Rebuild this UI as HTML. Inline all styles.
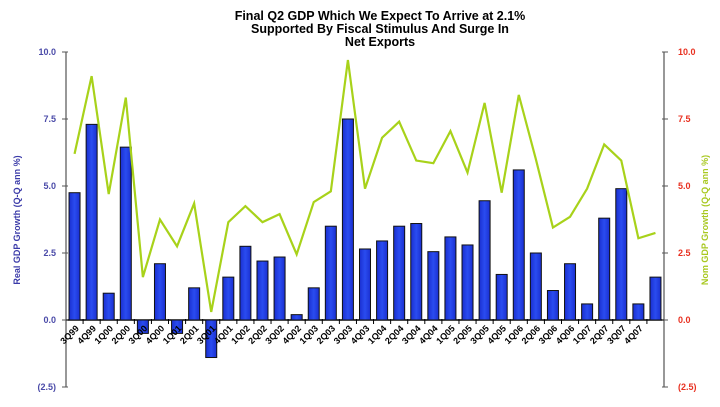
<!DOCTYPE html>
<html><head><meta charset="utf-8"><style>
body{margin:0;background:#fff;}
svg text{font-family:"Liberation Sans",sans-serif;font-weight:bold;}
</style></head><body>
<svg id="chart" width="720" height="402" viewBox="0 0 720 402" xmlns="http://www.w3.org/2000/svg">
<defs><linearGradient id="bg" x1="0" x2="1"><stop offset="0" stop-color="#1a2fd0"/><stop offset="0.5" stop-color="#2a4cf0"/><stop offset="1" stop-color="#1a2fd0"/></linearGradient></defs>
<g>
<text x="380" y="20" text-anchor="middle" font-size="12.5">Final Q2 GDP Which We Expect To Arrive at 2.1%</text>
<text x="380" y="33" text-anchor="middle" font-size="12.5">Supported By Fiscal Stimulus And Surge In</text>
<text x="380" y="46" text-anchor="middle" font-size="12.5">Net Exports</text>
</g>
<text transform="translate(20,220) rotate(-90)" text-anchor="middle" font-size="9" fill="#3a3aa8">Real GDP Growth (Q-Q ann %)</text>
<text transform="translate(708,220) rotate(-90)" text-anchor="middle" font-size="9" fill="#a8c820">Nom GDP Growth (Q-Q ann %)</text>
<g id="axes"></g><g id="bars"></g><g id="line"></g><g id="xlabels"></g>
</svg>
<script>
const categories=["3Q99","4Q99","1Q00","2Q00","3Q00","4Q00","1Q01","2Q01","3Q01","4Q01","1Q02","2Q02","3Q02","4Q02","1Q03","2Q03","3Q03","4Q03","1Q04","2Q04","3Q04","4Q04","1Q05","2Q05","3Q05","4Q05","1Q06","2Q06","3Q06","4Q06","1Q07","2Q07","3Q07","4Q07",""];
const realGdp=[4.75,7.3,1.0,6.45,-0.5,2.1,-0.5,1.2,-1.4,1.6,2.75,2.2,2.35,0.2,1.2,3.5,7.5,2.65,2.95,3.5,3.6,2.55,3.1,2.8,4.45,1.7,5.6,2.5,1.1,2.1,0.6,3.8,4.9,0.6,1.6];
const nomGdp=[6.2,9.1,4.7,8.3,1.6,3.75,2.75,4.35,0.3,3.65,4.25,3.65,3.95,2.45,4.4,4.8,9.7,4.9,6.8,7.4,5.95,5.85,7.05,5.5,8.1,4.75,8.4,6.0,3.45,3.85,4.9,6.55,5.95,3.05,3.25];
const ticks=[-2.5,0,2.5,5,7.5,10];
const tickLabels=["(2.5)","0.0","2.5","5.0","7.5","10.0"];
const NS="http://www.w3.org/2000/svg";
const X0=66,X1=664,Y0=320,PU=26.8;
const step=(X1-X0)/categories.length;
const y=v=>Y0-v*PU;
const xc=i=>X0+step*(i+0.5);
function mk(t,a,p){const e=document.createElementNS(NS,t);for(const k in a)e.setAttribute(k,a[k]);p.appendChild(e);return e;}
const axes=document.getElementById('axes');
let e=mk('line',{x1:X0,x2:X0,y1:y(10),y2:y(-2.5),stroke:'#777','stroke-width':1.5},axes);


e=mk('line',{x1:X1,x2:X1,y1:y(10),y2:y(-2.5),stroke:'#777','stroke-width':1.5},axes);


e=mk('line',{x1:X0,x2:X1,y1:Y0,y2:Y0,stroke:'#000','stroke-width':1.5},axes);


ticks.forEach((t,i)=>{
 mk('line',{x1:X0-4,x2:X0+2,y1:y(t),y2:y(t),stroke:'#555'},axes);
 mk('line',{x1:X1-2,x2:X1+4,y1:y(t),y2:y(t),stroke:'#555'},axes);
 let l=mk('text',{x:X0-10,y:y(t)+3,'text-anchor':'end','font-size':9,fill:'#4a4aa8'},axes);l.textContent=tickLabels[i];
 
 
 let r=mk('text',{x:X1+14,y:y(t)+3,'font-size':9,fill:'#e83020'},axes);r.textContent=tickLabels[i];
 
 
});
for(let i=1;i<categories.length;i++)mk('line',{x1:X0+step*i,x2:X0+step*i,y1:Y0-1,y2:Y0+4,stroke:'#000'},axes);
const bars=document.getElementById('bars');
realGdp.forEach((v,i)=>{
 const w=11;
 const r=mk('rect',{x:xc(i)-w/2,y:Math.min(y(v),Y0),width:w,height:Math.abs(v)*PU,fill:'url(#bg)',stroke:'#111','stroke-width':1},bars);
 
 
});
const pl=mk('polyline',{points:nomGdp.map((v,i)=>xc(i)+','+y(v)).join(' '),fill:'none',stroke:'#a8d21a','stroke-width':2.2},document.getElementById('line'));


const xl=document.getElementById('xlabels');
categories.forEach((c,i)=>{
 if(!c)return;
 const px=xc(i)+5,py=Y0+9;
 const t=mk('text',{x:px,y:py,'text-anchor':'end','font-size':9,fill:'#000',transform:`rotate(-45 ${px} ${py})`},xl);
 t.textContent=c;
 
 
});
</script>
</body></html>
